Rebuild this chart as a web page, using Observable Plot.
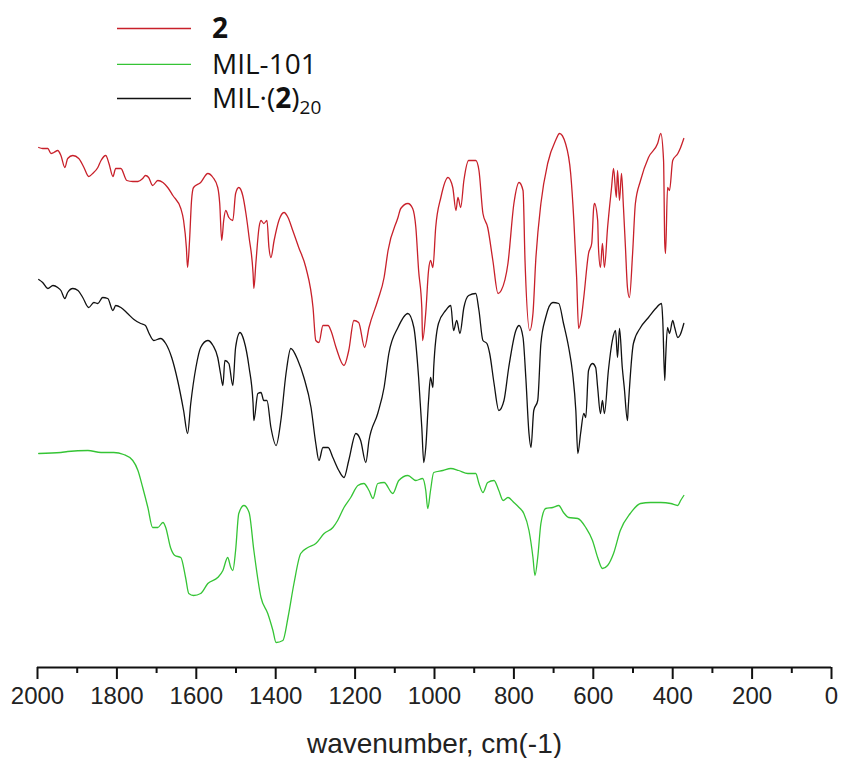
<!DOCTYPE html>
<html>
<head>
<meta charset="utf-8">
<script src="https://cdn.jsdelivr.net/npm/d3@7"></script>
<script src="https://cdn.jsdelivr.net/npm/@observablehq/plot@0.6"></script>
<style>
  html, body { margin: 0; padding: 0; background: #fff; }
  #legend { display: block; }
</style>
</head>
<body>
<svg id="legend" width="841" height="120"></svg>
<div id="chart"></div>
<script>
// ---- Data: IR spectra, [wavenumber cm^-1, transmittance (a.u., stacked with offsets)] ----
const seriesNames = ["2", "MIL-101", "MIL·(2)20"];
const seriesColors = ["#c8202a", "#35c435", "#111111"];

const spectrum2 = [
  [1997,520],[1987,519],[1974,519],[1966,514],[1959,515],[1949,517],[1941,512],[1931,500],[1924,509],[1911,512],
  [1896,509],[1883,500],[1871,491],[1861,494],[1848,500],[1840,507],[1828,512],[1820,504],[1810,491],[1803,499],
  [1790,499],[1775,487],[1760,486],[1747,486],[1735,489],[1728,492],[1720,490],[1710,482],[1697,487],[1684,485],
  [1672,480],[1659,472],[1639,459],[1632,447],[1625,420],[1622,400],[1617,427],[1612,467],[1607,480],[1589,485],
  [1571,494],[1558,490],[1546,480],[1541,464],[1536,427],[1531,447],[1526,457],[1518,450],[1508,447],[1501,474],
  [1493,480],[1483,472],[1475,454],[1467,430],[1457,394],[1455,379],[1450,404],[1442,440],[1437,447],[1430,444],
  [1422,447],[1417,420],[1412,410],[1404,427],[1392,447],[1379,455],[1369,450],[1357,437],[1342,420],[1324,400],
  [1306,360],[1299,327],[1291,325],[1281,342],[1268,342],[1261,337],[1248,320],[1228,302],[1216,317],[1203,347],
  [1191,345],[1176,320],[1165,340],[1143,367],[1127,390],[1117,417],[1092,450],[1085,459],[1067,464],[1055,459],
  [1047,440],[1040,397],[1032,360],[1030,327],[1022,355],[1015,397],[1010,407],[1004,400],[997,440],[984,470],
  [966,490],[954,480],[946,457],[941,470],[934,460],[926,487],[914,507],[896,507],[888,497],[878,454],
  [866,440],[853,407],[840,374],[832,377],[815,404],[800,464],[787,485],[777,477],[772,407],[760,337],
  [752,354],[745,407],[732,464],[715,504],[695,527],[685,534],[670,524],[657,494],[649,447],[642,390],
  [637,339],[630,350],[624,370],[612,414],[604,424],[599,460],[597,464],[589,447],[587,420],[582,400],
  [577,424],[572,400],[564,440],[554,480],[549,499],[542,470],[539,497],[534,467],[529,494],[524,460],
  [519,420],[514,380],[509,370],[501,414],[494,464],[481,487],[461,510],[438,524],[430,534],[423,507],
  [420,424],[418,414],[413,480],[408,477],[400,507],[387,514],[380,520],[372,529]
];

const spectrumMIL = [
  [1997,214],[1941,215],[1924,216],[1873,217],[1840,215],[1808,215],[1783,213],[1760,207],[1747,197],[1735,180],
  [1722,160],[1710,140],[1697,140],[1684,145],[1677,140],[1665,120],[1654,112],[1639,110],[1627,90],[1619,74],
  [1607,72],[1589,74],[1571,84],[1546,90],[1533,97],[1521,110],[1513,100],[1508,97],[1501,117],[1493,154],
  [1480,162],[1467,155],[1455,117],[1437,70],[1420,54],[1407,37],[1399,25],[1382,27],[1369,50],[1354,84],
  [1337,114],[1319,120],[1299,124],[1278,134],[1256,140],[1244,147],[1228,160],[1211,170],[1193,182],[1178,184],
  [1165,177],[1155,169],[1143,184],[1127,185],[1105,174],[1090,187],[1067,192],[1047,187],[1030,189],[1022,177],
  [1017,159],[1010,177],[1002,195],[979,197],[959,199],[939,197],[916,194],[896,194],[888,184],[878,175],
  [866,185],[850,187],[838,177],[827,167],[815,170],[800,165],[787,160],[775,154],[762,137],[752,110],
  [747,92],[740,110],[732,144],[720,159],[702,160],[687,162],[675,155],[662,150],[639,149],[619,140],
  [602,127],[589,110],[577,99],[564,102],[549,114],[532,137],[507,154],[481,164],[456,165],[430,165],
  [405,164],[387,162],[380,167],[372,172]
];

const spectrumComposite = [
  [1997,388],[1987,385],[1974,379],[1961,382],[1949,380],[1941,377],[1931,369],[1924,375],[1911,379],[1898,377],
  [1886,370],[1871,360],[1858,365],[1848,364],[1836,370],[1823,369],[1810,357],[1803,362],[1790,360],[1773,354],
  [1757,348],[1740,344],[1728,342],[1720,335],[1707,327],[1690,329],[1677,324],[1662,310],[1647,287],[1632,257],
  [1622,234],[1614,264],[1601,300],[1589,320],[1571,327],[1558,322],[1546,310],[1539,294],[1533,282],[1528,307],
  [1518,304],[1508,282],[1501,320],[1490,335],[1480,327],[1467,300],[1457,264],[1455,247],[1445,274],[1437,275],
  [1430,267],[1422,267],[1412,240],[1399,222],[1387,247],[1374,294],[1362,319],[1344,307],[1329,290],[1311,260],
  [1299,224],[1291,207],[1281,220],[1268,220],[1256,210],[1241,197],[1228,190],[1216,207],[1198,234],[1186,227],
  [1173,205],[1165,227],[1143,254],[1127,280],[1115,314],[1092,340],[1067,354],[1052,340],[1040,290],[1032,240],
  [1027,205],[1022,220],[1015,267],[1010,290],[1004,280],[1002,300],[990,344],[972,357],[959,362],[952,337],
  [944,347],[936,334],[926,360],[914,372],[896,374],[888,357],[878,327],[868,324],[861,314],[850,284],
  [838,257],[825,267],[813,300],[795,337],[787,342],[777,330],[770,290],[762,234],[757,220],[750,257],
  [740,267],[732,324],[720,350],[702,365],[687,364],[675,344],[662,320],[652,294],[644,257],[639,214],
  [632,234],[624,254],[619,250],[612,297],[602,304],[594,300],[589,280],[582,254],[577,267],[572,254],
  [562,297],[552,327],[544,337],[539,310],[534,339],[527,300],[522,280],[514,247],[512,260],[499,324],
  [481,340],[461,350],[443,359],[428,364],[425,347],[420,287],[418,307],[413,340],[408,334],[400,347],
  [395,340],[387,330],[382,332],[372,344]
];

const majorTicks = [2000, 1800, 1600, 1400, 1200, 1000, 800, 600, 400, 200, 0];
const minorTicks = [1900, 1700, 1500, 1300, 1100, 900, 700, 500, 300, 100];
const xLabel = "wavenumber, cm(-1)";

// ---- Build table ----
const spectra = [spectrum2, spectrumMIL, spectrumComposite];
const rows = [];
spectra.forEach((pts, i) => pts.forEach(([w, v]) => rows.push({series: seriesNames[i], w, v})));

// ---- Legend (above the plot) ----
const legend = d3.select("#legend");
const legendY = [28.5, 64.3, 98.5];
const legendBase = [37.5, 73.5, 108];
seriesNames.forEach((name, i) => {
  legend.append("line")
    .attr("x1", 117).attr("x2", 191)
    .attr("y1", legendY[i]).attr("y2", legendY[i])
    .attr("stroke", seriesColors[i]).attr("stroke-width", 1.3);
});
const lt = (i) => legend.append("text")
  .attr("x", 212).attr("y", legendBase[i])
  .attr("font-family", "'Open Sans', 'Noto Sans', sans-serif")
  .attr("font-size", 28).attr("fill", "#111");
lt(0).append("tspan").attr("font-weight", "bold").text("2");
lt(1).text("MIL-101");
const t3 = lt(2);
t3.append("tspan").text("MIL·(");
t3.append("tspan").attr("font-weight", "bold").text("2");
t3.append("tspan").text(")");
t3.append("tspan").attr("font-size", 19).attr("dy", 6).text("20");

// ---- Plot ----
const chart = Plot.plot({
  width: 841,
  height: 638,
  marginLeft: 37,
  marginRight: 10,
  marginTop: 0,
  marginBottom: 91,
  style: {fontFamily: "'Liberation Sans', Arial, sans-serif", color: "#222", background: "#fff"},
  x: {domain: [2000, 0]},
  y: {domain: [0, 547], axis: null},
  color: {domain: seriesNames, range: seriesColors},
  marks: [
    Plot.line(rows, {x: "w", y: "v", z: "series", stroke: "series", strokeWidth: 1.3, curve: "monotone-x"}),
    Plot.ruleY([0], {stroke: "#111", strokeWidth: 2}),
    Plot.axisX(majorTicks, {anchor: "bottom", tickSize: 12, tickPadding: 7, strokeWidth: 2, stroke: "#111",
      fontSize: 24, tickFormat: d => String(d), label: null}),
    Plot.axisX(minorTicks, {anchor: "bottom", tickSize: 6, strokeWidth: 2, stroke: "#111",
      tickFormat: () => "", label: null}),
    Plot.text([xLabel], {frameAnchor: "bottom", dy: 77, fontSize: 28, lineAnchor: "middle", fill: "#222"})
  ]
});
document.getElementById("chart").append(chart);
</script>
</body>
</html>
